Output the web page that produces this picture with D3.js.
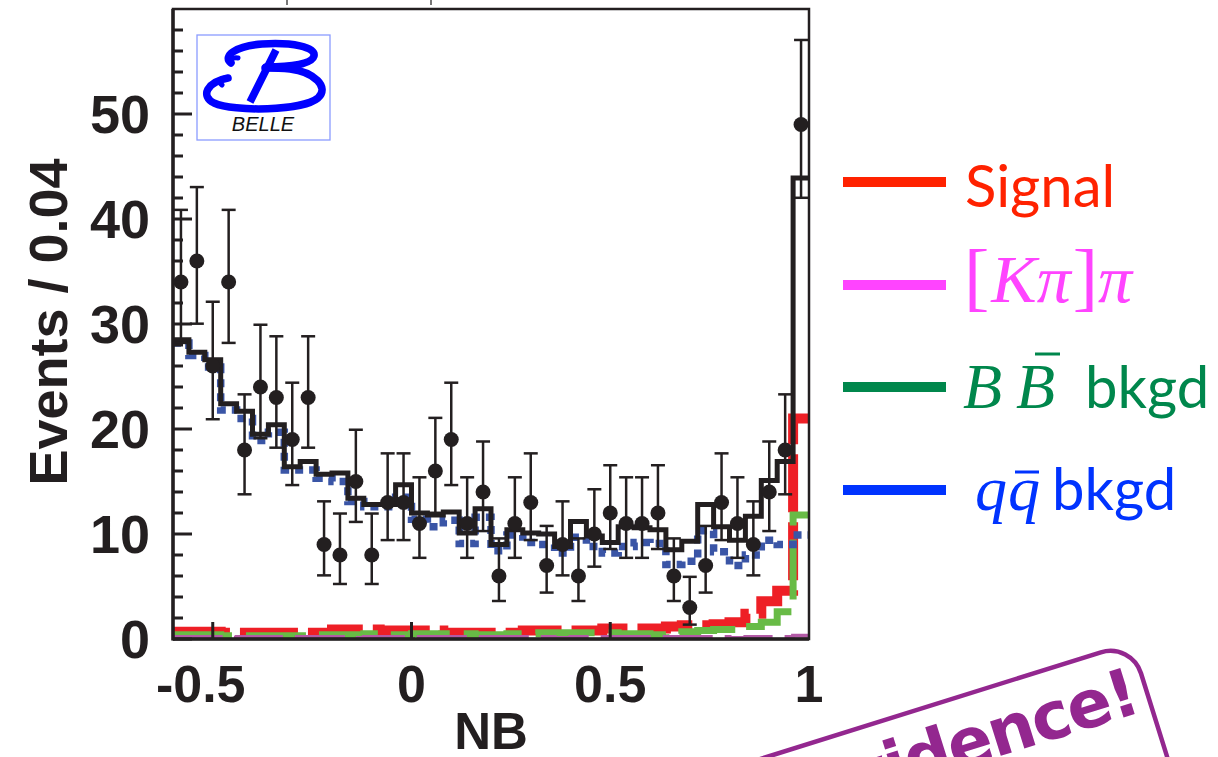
<!DOCTYPE html>
<html>
<head>
<meta charset="utf-8">
<script src="https://cdn.jsdelivr.net/npm/d3@7"></script>
<style>
  html, body { margin: 0; padding: 0; background: #fff; }
  svg { display: block; }
</style>
</head>
<body>
<svg id="chart" width="1218" height="757"></svg>
<script>
// NB distribution, 40 bins of width 0.04 between -0.6 and 1.0
const nbMin = -0.6, nbMax = 1.0, binWidth = 0.04, nBins = 40;

// observed events per bin
const dataCounts = [34,36,26,34,18,24,23,19,23,9,8,15,8,13,13,11,16,19,11,14,
                    6,11,13,7,9,6,10,12,11,11,12,6,3,7,13,11,9,14,18,49];
// asymmetric Poisson errors
const errLow  = [5.80,5.97,5.07,5.80,4.22,4.88,4.78,4.34,4.78,2.94,2.76,3.85,2.76,3.58,3.58,3.27,3.98,4.34,3.27,3.72,
                 2.38,3.27,3.58,2.58,2.94,2.38,3.11,3.43,3.27,3.27,3.43,2.38,1.63,2.58,3.58,3.27,2.94,3.72,4.22,6.98];
const errHigh = [6.87,7.04,6.12,6.87,5.30,5.93,5.83,5.41,5.83,4.11,3.95,4.93,3.95,4.68,4.68,4.40,5.06,5.41,4.40,4.81,
                 3.58,4.40,4.68,3.77,4.11,3.58,4.26,4.55,4.40,4.40,4.55,3.58,2.92,3.77,4.68,4.40,4.11,4.81,5.30,8.05];

// fit components per bin
const totalFit = [28.5,27.3,26.6,22.4,21.7,19.5,20.4,16.4,16.9,15.7,15.8,13.4,12.8,12.8,14.7,12.0,11.8,12.1,10.1,12.4,
                  9.0,10.4,10.1,10.0,8.8,11.2,9.8,9.2,10.7,10.6,10.4,8.5,9.3,12.8,10.7,9.4,11.7,15.1,16.9,43.9];
const qqBkgd   = [28.2,27.0,25.9,21.8,21.0,18.9,19.7,16.1,16.1,15.3,15.0,13.1,12.6,12.6,13.5,11.4,10.7,11.3,9.1,11.6,
                  8.4,9.9,9.2,9.0,8.2,9.7,8.8,8.2,8.8,9.2,9.1,7.1,7.4,10.3,8.3,7.0,8.0,9.4,9.0,9.9];
const signal   = [0.7,0.7,0.7,0.6,0.6,0.6,0.6,0.6,0.6,0.6,0.9,0.9,0.9,0.8,0.8,0.8,0.8,0.6,0.6,0.6,
                  0.6,0.6,0.8,0.8,0.8,0.8,0.8,1.0,1.0,1.0,1.0,1.2,1.3,1.3,1.4,1.6,2.4,3.6,4.6,21.0];
const bbBkgd   = [0.4,0.4,0.4,0.3,0.3,0.3,0.3,0.3,0.3,0.4,0.4,0.4,0.5,0.4,0.4,0.5,0.5,0.5,0.5,0.4,
                  0.4,0.5,0.5,0.6,0.6,0.6,0.6,0.6,0.5,0.5,0.4,0.5,0.7,0.8,0.9,0.9,1.2,1.6,2.6,11.8];
const kpiPi    = [0.2,0.2,0.2,0.1,0.2,0.2,0.2,0.2,0.2,0.2,0.2,0.1,0.2,0.2,0.2,0.2,0.2,0.2,0.2,0.2,
                  0.2,0.2,0.2,0.2,0.1,0.2,0.2,0.2,0.2,0.2,0.2,0.2,0.2,0.2,0.2,0.1,0.2,0.2,0.2,0.3];

const xTicks = [-0.5, 0, 0.5, 1];
const xTickLabels = ["-0.5", "0", "0.5", "1"];
const yTicks = [0, 10, 20, 30, 40, 50];
const yMinorTicks = [2,4,6,8,12,14,16,18,22,24,26,28,32,34,36,38,42,44,46,48,52,54,56,58];

const legendItems = ["Signal", "[Kπ]π", "BB̄ bkgd", "qq̄ bkgd"];

const svg = d3.select("#chart");
const plot = {left: 173, right: 809, top: 9, bottom: 639};

const x = d3.scaleLinear().domain([nbMin, nbMax]).range([plot.left, plot.right]);
const y = d3.scaleLinear().domain([0, 60]).range([plot.bottom, plot.top]);

const edges = d3.range(nBins + 1).map(i => nbMin + binWidth * i);
const centers = d3.range(nBins).map(i => nbMin + binWidth * (i + 0.5));

svg.append("clipPath").attr("id", "plotClip")
  .append("rect").attr("x", plot.left).attr("y", plot.top)
  .attr("width", plot.right - plot.left).attr("height", plot.bottom - plot.top);

const stepLine = d3.line().x(d => x(d[0])).y(d => y(d[1])).curve(d3.curveStepAfter);
function histPoints(vals) {
  const pts = vals.map((v, i) => [edges[i], v]);
  pts.push([edges[nBins], vals[nBins - 1]]);
  return pts;
}

const gPlot = svg.append("g").attr("clip-path", "url(#plotClip)");

// fit components, drawing order: signal, BB, [K pi] pi, qq, total
gPlot.append("path").attr("d", stepLine(histPoints(signal)))
  .attr("fill", "none").attr("stroke", "#ee1f26").attr("stroke-width", 10)
  .attr("stroke-dasharray", "58,10");
gPlot.append("path").attr("d", stepLine(histPoints(bbBkgd)))
  .attr("fill", "none").attr("stroke", "#68bb46").attr("stroke-width", 7)
  .attr("stroke-dasharray", "60,14");
gPlot.append("path").attr("d", stepLine(histPoints(kpiPi)))
  .attr("fill", "none").attr("stroke", "#b35aa6").attr("stroke-width", 4)
  .attr("stroke-dasharray", "50,12");
gPlot.append("path").attr("d", stepLine(histPoints(qqBkgd)))
  .attr("fill", "none").attr("stroke", "#3a55a6").attr("stroke-width", 7.5)
  .attr("stroke-dasharray", "8,6");
gPlot.append("path").attr("d", stepLine(histPoints(totalFit)))
  .attr("fill", "none").attr("stroke", "#231f20").attr("stroke-width", 5);

// data points with error bars
const gData = svg.append("g");
const capW = 7;
dataCounts.forEach((n, i) => {
  const cx = x(centers[i]);
  const yTop = y(n + errHigh[i]), yBot = y(n - errLow[i]);
  gData.append("line").attr("x1", cx).attr("x2", cx).attr("y1", yTop).attr("y2", yBot)
    .attr("stroke", "#231f20").attr("stroke-width", 2.5);
  [yTop, yBot].forEach(yy => gData.append("line")
    .attr("x1", cx - capW).attr("x2", cx + capW).attr("y1", yy).attr("y2", yy)
    .attr("stroke", "#231f20").attr("stroke-width", 2.5));
  gData.append("circle").attr("cx", cx).attr("cy", y(n)).attr("r", 7.5).attr("fill", "#231f20");
});

// frame
const frame = svg.append("g").attr("stroke", "#231f20").attr("fill", "none");
frame.append("rect").attr("x", plot.left).attr("y", plot.top)
  .attr("width", plot.right - plot.left).attr("height", plot.bottom - plot.top)
  .attr("stroke-width", 2.5);
frame.append("line").attr("x1", plot.left).attr("x2", plot.left).attr("y1", plot.top).attr("y2", plot.bottom + 1.5).attr("stroke-width", 3.5);
frame.append("line").attr("x1", plot.left).attr("x2", plot.right).attr("y1", plot.bottom).attr("y2", plot.bottom).attr("stroke-width", 3.5);

yTicks.forEach(t => frame.append("line").attr("x1", plot.left).attr("x2", plot.left + 19)
  .attr("y1", y(t)).attr("y2", y(t)).attr("stroke-width", 3));
yMinorTicks.forEach(t => frame.append("line").attr("x1", plot.left).attr("x2", plot.left + 10)
  .attr("y1", y(t)).attr("y2", y(t)).attr("stroke-width", 3));
xTicks.slice(0, 3).forEach(t => frame.append("line").attr("x1", x(t)).attr("x2", x(t))
  .attr("y1", plot.bottom).attr("y2", plot.bottom - 17).attr("stroke-width", 3));

// small marks above the frame
[287, 431].forEach(px => svg.append("line").attr("x1", px).attr("x2", px).attr("y1", 0).attr("y2", 5)
  .attr("stroke", "#777").attr("stroke-width", 2));

// axis labels
const labelFont = "'Liberation Sans', Arial, sans-serif";
svg.append("g").selectAll("text").data(yTicks).join("text")
  .attr("x", 150).attr("y", d => y(d)).attr("dy", "0.36em")
  .attr("text-anchor", "end").attr("font-family", labelFont).attr("font-weight", "bold")
  .attr("font-size", 54).attr("fill", "#231f20").text(d => d);
// negative labels are centred on their digits, with the sign hanging to the left
svg.append("g").selectAll("text").data(xTicks).join("text")
  .attr("x", d => x(d)).attr("y", 702)
  .attr("dx", d => d < 0 ? -12 : 0)
  .attr("text-anchor", "middle").attr("font-family", labelFont).attr("font-weight", "bold")
  .attr("font-size", 52).attr("fill", "#231f20").text((d, i) => xTickLabels[i]);
svg.append("text").attr("x", 491).attr("y", 749).attr("text-anchor", "middle")
  .attr("font-family", labelFont).attr("font-weight", "bold").attr("font-size", 51)
  .attr("fill", "#231f20").text("NB");
svg.append("text").attr("transform", "translate(67,322) rotate(-90)").attr("text-anchor", "middle")
  .attr("font-family", labelFont).attr("font-weight", "bold").attr("font-size", 54)
  .attr("fill", "#231f20").text("Events / 0.04");

// Belle logo
const logo = svg.append("g");
logo.append("rect").attr("x", 197).attr("y", 35).attr("width", 133).attr("height", 105)
  .attr("fill", "#fff").attr("stroke", "#8b9cff").attr("stroke-width", 1.3);
const bColor = "#0000ff";
logo.append("path").attr("d", "M231,63 C222,56 236,46 262,44 C292,42 316,47 314,56 C312,64 292,67 266,67")
  .attr("fill", "none").attr("stroke", bColor).attr("stroke-width", 7.5).attr("stroke-linecap", "round");
logo.append("path").attr("d", "M231,63 C229,60 233,57 238,58")
  .attr("fill", "none").attr("stroke", bColor).attr("stroke-width", 5).attr("stroke-linecap", "round");
logo.append("path").attr("d", "M276,50 L250,102")
  .attr("fill", "none").attr("stroke", bColor).attr("stroke-width", 7.5);
logo.append("path").attr("d", "M228,78 C207,82 200,96 214,103 C234,112 302,111 318,98 C330,87 314,72 290,69 C280,68 272,68 265,68")
  .attr("fill", "none").attr("stroke", bColor).attr("stroke-width", 7.5).attr("stroke-linecap", "round");
logo.append("path").attr("d", "M228,78 C222,77 217,82 222,85")
  .attr("fill", "none").attr("stroke", bColor).attr("stroke-width", 5).attr("stroke-linecap", "round");
logo.append("text").attr("x", 263).attr("y", 131).attr("text-anchor", "middle")
  .attr("font-family", labelFont).attr("font-style", "italic").attr("font-size", 20)
  .attr("fill", "#111").text("BELLE");

// legend
const legendColors = ["#ff2200", "#ff44ff", "#00874c", "#0033ff"];
const legendY = [182, 285, 387, 490];
const legend = svg.append("g");
legendItems.forEach((name, i) => legend.append("line")
  .attr("x1", 843).attr("x2", 946).attr("y1", legendY[i]).attr("y2", legendY[i])
  .attr("stroke", legendColors[i]).attr("stroke-width", 10));

const sans = "Lato, 'Open Sans', sans-serif";
const serif = "'Liberation Serif', 'DejaVu Serif', serif";

legend.append("text").attr("x", 965).attr("y", 207).attr("font-family", sans)
  .attr("font-size", 58).attr("fill", legendColors[0]).text(legendItems[0]);

const kpi = legend.append("text").attr("x", 964).attr("y", 302).attr("font-family", serif)
  .attr("font-size", 68).attr("fill", legendColors[1]);
kpi.append("tspan").attr("font-size", 76).text("[");
kpi.append("tspan").attr("font-style", "italic").attr("dx", 2).text("Kπ");
kpi.append("tspan").attr("font-size", 76).attr("dx", 2).text("]");
kpi.append("tspan").attr("font-style", "italic").text("π");

const bb = legend.append("text").attr("y", 408).attr("font-family", serif)
  .attr("font-size", 64).attr("fill", legendColors[2]);
bb.append("tspan").attr("x", 963).attr("font-style", "italic").text("B");
bb.append("tspan").attr("x", 1016).attr("font-style", "italic").text("B");
bb.append("tspan").attr("x", 1085).attr("font-family", sans).attr("font-size", 58).text("bkgd");
legend.append("line").attr("x1", 1035).attr("x2", 1060).attr("y1", 354).attr("y2", 354)
  .attr("stroke", legendColors[2]).attr("stroke-width", 3);

const qq = legend.append("text").attr("y", 510).attr("font-family", serif)
  .attr("font-size", 64).attr("fill", legendColors[3]);
qq.append("tspan").attr("x", 975).attr("font-style", "italic").text("q");
qq.append("tspan").attr("x", 1008).attr("font-style", "italic").text("q");
qq.append("tspan").attr("x", 1052).attr("font-family", sans).attr("font-size", 58).text("bkgd");
legend.append("line").attr("x1", 1015).attr("x2", 1039).attr("y1", 472).attr("y2", 472)
  .attr("stroke", legendColors[3]).attr("stroke-width", 3);

// "Evidence!" stamp
const stamp = svg.append("g").attr("transform", "translate(1140,727) rotate(-17.4)");
stamp.append("rect").attr("x", -440).attr("y", -83).attr("width", 457).attr("height", 150).attr("rx", 32)
  .attr("fill", "none").attr("stroke", "#93278f").attr("stroke-width", 4.5);
stamp.append("text").attr("x", 6).attr("y", -14).attr("text-anchor", "end")
  .attr("font-family", "'DejaVu Sans', sans-serif").attr("font-weight", "bold").attr("font-size", 66)
  .attr("letter-spacing", -2)
  .attr("fill", "#93278f").text("Evidence!");
</script>
</body>
</html>
